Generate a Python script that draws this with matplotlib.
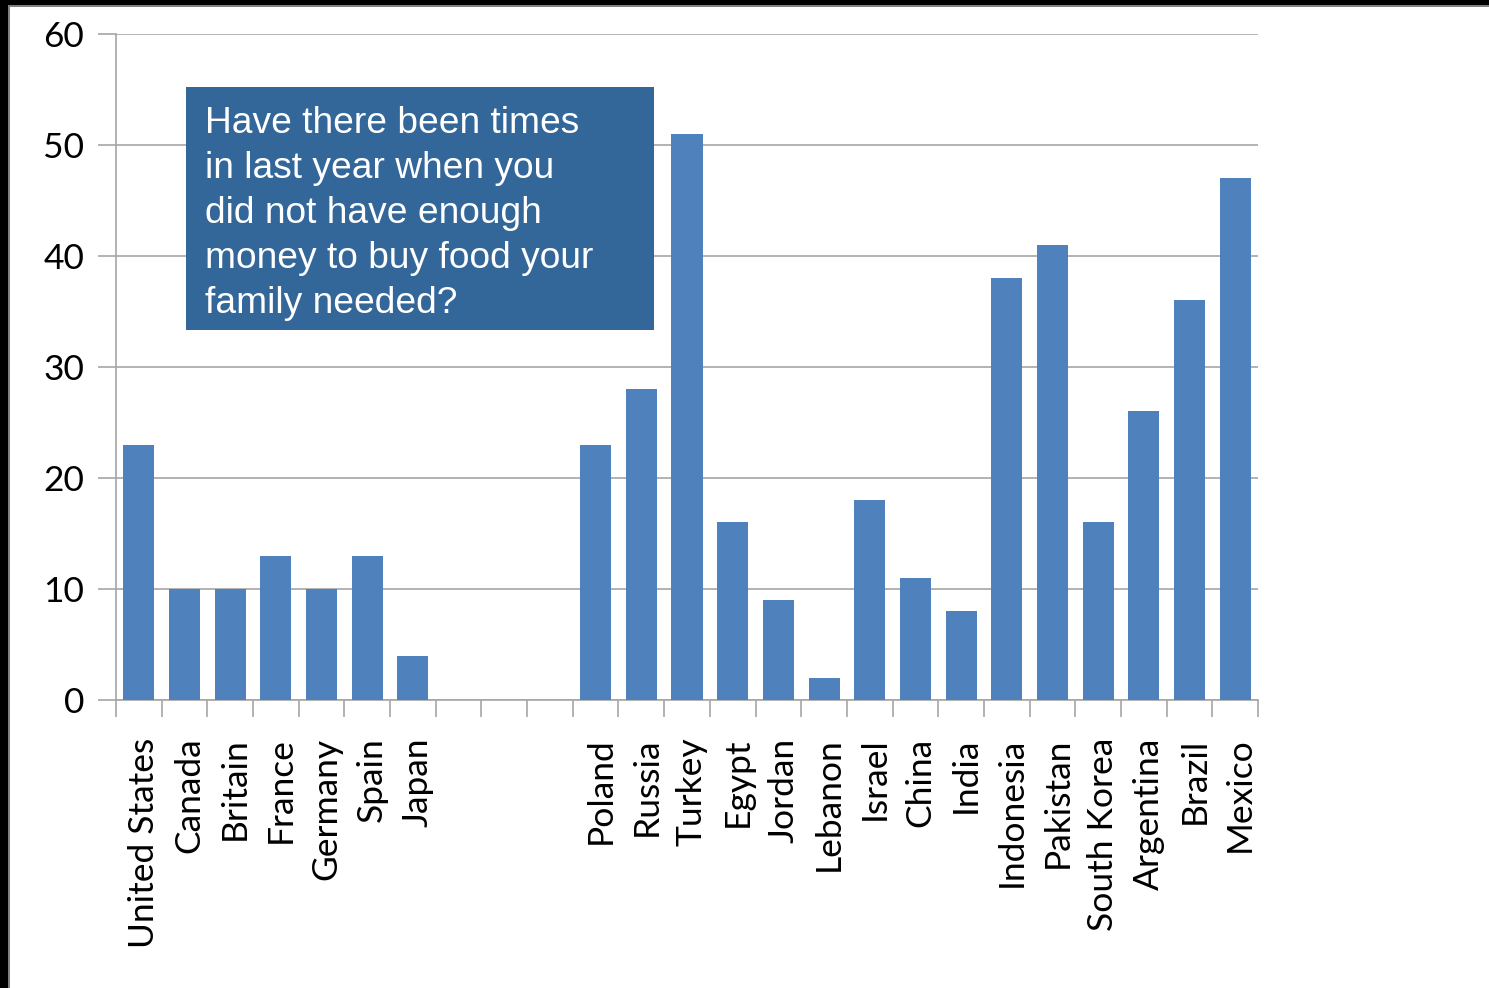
import matplotlib
matplotlib.use("Agg")
import matplotlib.pyplot as plt
from matplotlib.patches import Rectangle
from matplotlib.ticker import FixedLocator
from matplotlib.transforms import ScaledTranslation

# Share of people who could not afford food for their family in the last year (%)
countries = ["United States", "Canada", "Britain", "France", "Germany", "Spain", "Japan",
             "", "", "",
             "Poland", "Russia", "Turkey", "Egypt", "Jordan", "Lebanon", "Israel", "China",
             "India", "Indonesia", "Pakistan", "South Korea", "Argentina", "Brazil", "Mexico"]
values = [23, 10, 10, 13, 10, 13, 4,
          None, None, None,
          23, 28, 51, 16, 9, 2, 18, 11, 8, 38, 41, 16, 26, 36, 47]
y_ticks = [0, 10, 20, 30, 40, 50, 60]
question = ("Have there been times\nin last year when you\ndid not have enough\n"
            "money to buy food your\nfamily needed?")

W, H = 1489, 988
fig = plt.figure(figsize=(W / 100, H / 100), dpi=100)
fig.patch.set_facecolor("white")

ax = fig.add_axes([116 / W, 1 - 700 / H, (1258 - 116) / W, (700 - 34) / H])

xs = list(range(len(countries)))
bx = [x for x, v in zip(xs, values) if v is not None]
bv = [v for v in values if v is not None]
ax.bar(bx, bv, width=0.68, color="#4F81BD", zorder=3)

ax.set_xlim(-0.5, len(countries) - 0.5)
ax.set_ylim(0, 60)
ax.set_yticks(y_ticks)
ax.yaxis.grid(True, color="#A6A6A6", linewidth=1.2, zorder=0)

for s in ["top", "right"]:
    ax.spines[s].set_visible(False)
for s in ["left", "bottom"]:
    ax.spines[s].set_color("#A6A6A6")
    ax.spines[s].set_linewidth(1.2)

tick_font = dict(family=["Lato", "DejaVu Sans"], size=25.5, color="black")
ax.set_yticklabels([str(t) for t in y_ticks], **tick_font)
ax.tick_params(axis="y", length=13, width=1.2, color="#A6A6A6", pad=10)

# category boundaries carry the tick marks; labels sit at the centres
ax.xaxis.set_major_locator(FixedLocator(xs))
ax.set_xticklabels(countries, rotation=90, va="top", ha="center", **tick_font)
ax.tick_params(axis="x", which="major", length=0, pad=27)
ax.xaxis.set_minor_locator(FixedLocator([x - 0.5 for x in xs] + [len(xs) - 0.5]))
ax.tick_params(axis="x", which="minor", length=12, width=1.2, color="#A6A6A6")
nudge = ScaledTranslation(5 / 100, 0, fig.dpi_scale_trans)
for lbl in ax.get_xticklabels():
    lbl.set_transform(lbl.get_transform() + nudge)

# question callout
fig.patches.append(Rectangle((186 / W, 1 - 330 / H), (654 - 186) / W, (330 - 87) / H,
                             transform=fig.transFigure, facecolor="#336699",
                             edgecolor="none", zorder=5))
fig.text(205 / W, 1 - 106 / H, question, color="white", ha="left", va="top",
         family=["Liberation Sans", "DejaVu Sans"], fontsize=26.7, linespacing=1.37,
         zorder=6)

# slide frame along the top and left edges
fig.patches.append(Rectangle((0, 1 - 5 / H), 1, 5 / H, transform=fig.transFigure,
                             facecolor="black", edgecolor="none", zorder=7))
fig.patches.append(Rectangle((0, 1 - 7 / H), 1, 2 / H, transform=fig.transFigure,
                             facecolor="#808080", edgecolor="none", zorder=7))
fig.patches.append(Rectangle((0, 0), 8 / W, 1, transform=fig.transFigure,
                             facecolor="black", edgecolor="none", zorder=8))
fig.patches.append(Rectangle((8 / W, 0), 2 / W, 1 - 5 / H, transform=fig.transFigure,
                             facecolor="#808080", edgecolor="none", zorder=8))

fig.savefig("out.png", dpi=100)
